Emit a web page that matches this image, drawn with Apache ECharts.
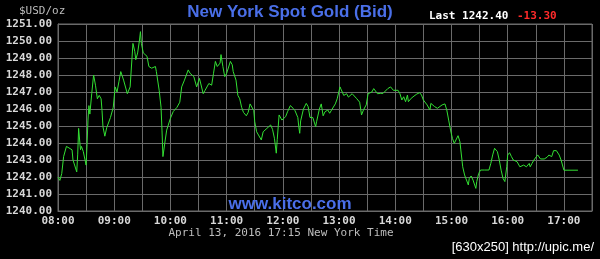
<!DOCTYPE html>
<html>
<head>
<meta charset="utf-8">
<script src="https://cdn.jsdelivr.net/npm/echarts@6/dist/echarts.min.js"></script>
<style>
html,body{margin:0;padding:0;background:#000;}
#chart{width:600px;height:259px;}
</style>
</head>
<body>
<div id="chart"></div>
<script>
var times = ["08:00","08:02","08:04","08:06","08:09","08:11","08:15","08:16","08:18","08:20","08:21","08:22","08:24","08:25","08:27","08:30","08:31","08:32","08:33","08:34","08:36","08:38","08:40","08:42","08:44","08:46","08:47","08:48","08:50","08:52","08:56","08:59",
"09:01","09:03","09:05","09:07","09:10","09:14","09:17","09:20","09:22","09:23","09:25","09:27","09:28","09:29","09:31","09:35","09:37","09:40","09:44","09:45","09:48","09:50","09:51","09:52","09:54","09:56",
"10:00","10:03","10:07","10:10","10:12","10:15","10:17","10:19","10:21","10:25","10:28","10:31","10:35","10:37","10:41","10:44","10:46","10:48","10:50","10:51","10:53","10:54","10:56","10:58",
"11:00","11:04","11:06","11:07","11:10","11:12","11:14","11:16","11:18","11:21","11:23","11:25","11:27","11:29","11:30","11:32","11:34","11:37","11:39","11:43","11:47","11:49","11:51","11:53","11:54","11:56","11:59",
"12:03","12:05","12:08","12:11","12:13","12:16","12:17","12:18","12:19","12:22","12:25","12:27","12:29","12:32","12:35","12:36","12:39","12:41","12:43","12:45","12:48","12:50","12:52","12:56","12:58",
"13:00","13:01","13:03","13:05","13:08","13:10","13:14","13:16","13:19","13:22","13:24","13:26","13:29","13:31","13:33","13:35","13:37","13:39","13:41","13:44","13:47","13:49","13:52","13:55","13:58",
"14:00","14:03","14:05","14:07","14:09","14:11","14:13","14:14","14:17","14:20","14:23","14:26","14:28","14:30","14:34","14:37","14:38","14:40","14:42","14:45","14:47","14:50","14:53","14:55","14:57","14:59",
"15:01","15:03","15:04","15:07","15:09","15:10","15:12","15:14","15:16","15:18","15:19","15:21","15:23","15:26","15:27","15:29","15:31","15:35","15:37","15:40","15:42","15:44","15:46","15:49","15:51","15:53","15:55","15:57","15:59",
"16:00","16:02","16:04","16:06","16:07","16:10","16:13","16:14","16:17","16:20","16:23","16:24","16:26","16:28","16:30","16:32","16:35","16:39","16:42","16:44","16:47","16:49","16:50","16:52","16:55","16:57",
"17:00","17:15"];
var prices = [1242.00,1241.80,1242.20,1243.20,1243.80,1243.90,1243.60,1243.00,1242.90,1242.30,1243.30,1244.86,1243.60,1243.80,1243.50,1242.70,1243.90,1245.35,1246.20,1245.70,1246.90,1248.00,1247.40,1246.60,1246.80,1246.60,1245.90,1244.96,1244.40,1244.90,1245.50,1246.10,
1247.30,1247.00,1247.60,1248.20,1247.70,1246.90,1247.30,1249.86,1249.37,1248.90,1249.30,1250.06,1250.55,1249.86,1249.30,1249.10,1248.50,1248.40,1248.50,1248.20,1247.10,1246.10,1244.76,1243.20,1244.00,1244.76,
1245.45,1245.85,1246.10,1246.40,1247.30,1247.70,1247.60,1248.30,1248.10,1247.90,1247.30,1247.80,1246.90,1247.10,1247.50,1247.40,1248.10,1248.80,1248.50,1248.40,1248.70,1249.20,1248.50,1247.90,
1248.10,1248.80,1248.60,1248.20,1247.70,1246.80,1246.60,1246.10,1245.80,1245.60,1245.80,1246.30,1246.40,1245.90,1245.25,1244.66,1244.57,1244.18,1244.66,1244.86,1245.06,1244.80,1244.28,1243.40,1244.20,1245.65,1245.35,
1245.55,1245.84,1246.20,1246.04,1245.90,1245.50,1244.96,1244.57,1245.30,1246.00,1246.33,1246.14,1245.50,1245.50,1244.96,1245.25,1246.00,1246.30,1245.60,1245.84,1245.94,1245.75,1245.94,1246.30,1246.60,
1246.50,1247.30,1247.20,1246.80,1246.90,1246.70,1246.90,1246.95,1246.60,1246.40,1245.65,1245.94,1246.24,1246.90,1246.92,1247.00,1247.20,1247.10,1246.90,1246.92,1246.92,1247.00,1247.20,1247.30,1247.10,
1247.00,1247.10,1246.90,1246.53,1246.72,1246.43,1246.82,1246.43,1246.63,1246.76,1246.88,1246.96,1246.82,1246.53,1246.24,1245.94,1246.33,1246.29,1246.14,1246.04,1246.14,1246.24,1246.30,1245.94,1245.35,1244.76,
1244.27,1243.98,1244.08,1244.43,1244.08,1243.59,1242.60,1242.12,1242.02,1241.53,1241.92,1242.06,1241.82,1241.33,1241.73,1242.20,1242.41,1242.41,1242.31,1242.41,1242.80,1243.30,1243.69,1243.49,1243.00,1242.40,1241.92,1241.73,1242.60,
1243.29,1243.43,1243.20,1243.00,1243.10,1242.90,1242.60,1242.51,1242.70,1242.60,1242.80,1242.60,1242.80,1243.00,1243.10,1243.30,1243.06,1243.06,1243.16,1243.29,1243.20,1243.55,1243.49,1243.55,1243.29,1243.00,
1242.40,1242.40];
var yTicks = [1240,1241,1242,1243,1244,1245,1246,1247,1248,1249,1250,1251];
var xTickLabels = ["08:00","09:00","10:00","11:00","12:00","13:00","14:00","15:00","16:00","17:00"];
var titleText = "New York Spot Gold (Bid)";
var lastText = "Last 1242.40";
var changeText = "-13.30";
var unitText = "$USD/oz";
var siteText = "www.kitco.com";
var dateText = "April 13, 2016 17:15 New York Time";
var stampText = "[630x250] http://upic.me/";

function toMin(t){var p=t.split(':');return (parseInt(p[0],10)-8)*60+parseInt(p[1],10);}
function toLabel(m){var h=8+Math.floor(m/60),mm=m%60;return (h<10?'0':'')+h+':'+(mm<10?'0':'')+mm;}
var data = times.map(function(t,i){return [toMin(t),prices[i]];});

var chart = echarts.init(document.getElementById('chart'),null,{renderer:'canvas'});
var gridCol = '#6a6a6a';
var mono = '"DejaVu Sans Mono", "Liberation Mono", monospace';
chart.setOption({
  backgroundColor:'#000',
  animation:false,
  grid:{left:58,right:8,top:24,bottom:48,show:true,borderColor:gridCol,borderWidth:1,backgroundColor:'#000'},
  xAxis:{type:'value',min:0,max:570,interval:30,
    axisLine:{show:true,lineStyle:{color:gridCol}},axisTick:{show:false},
    splitLine:{show:true,lineStyle:{color:gridCol,width:1}},
    axisLabel:{color:'#d8d8d8',fontFamily:mono,fontSize:11,fontWeight:'bold',margin:5,
      formatter:function(v){var l=toLabel(v);return xTickLabels.indexOf(l)>=0?l:'';}}},
  yAxis:{type:'value',min:yTicks[0],max:yTicks[yTicks.length-1],interval:1,
    axisLine:{show:true,lineStyle:{color:gridCol}},axisTick:{show:false},
    splitLine:{show:true,lineStyle:{color:gridCol,width:1}},
    axisLabel:{color:'#d8d8d8',fontFamily:mono,fontSize:11,fontWeight:'bold',margin:6,
      formatter:function(v){return v.toFixed(2);}}},
  series:[{type:'line',data:data,showSymbol:false,symbol:'none',
    lineStyle:{color:'#33e033',width:1},z:3}],
  graphic:[
    {type:'text',x:19,y:11,style:{text:unitText,font:'11px '+mono,fill:'#bdbdbd',textAlign:'left',textVerticalAlign:'middle'}},
    {type:'text',x:290,y:12,style:{text:titleText,font:'bold 17px "Liberation Sans", Arial, sans-serif',fill:'#4a6fe8',textAlign:'center',textVerticalAlign:'middle'}},
    {type:'text',x:429,y:16,style:{text:lastText,font:'bold 11px '+mono,fill:'#ffffff',textAlign:'left',textVerticalAlign:'middle'}},
    {type:'text',x:517,y:16,style:{text:changeText,font:'bold 11px '+mono,fill:'#ff2a2a',textAlign:'left',textVerticalAlign:'middle'}},
    {type:'text',x:290,y:204,z:10,style:{text:siteText,font:'bold 17px "Liberation Sans", Arial, sans-serif',fill:'#4a6fe8',textAlign:'center',textVerticalAlign:'middle'}},
    {type:'text',x:281,y:233,style:{text:dateText,font:'11px '+mono,fill:'#bdbdbd',textAlign:'center',textVerticalAlign:'middle'}},
    {type:'text',x:594,y:247,style:{text:stampText,font:'13px "Liberation Sans", sans-serif',fill:'#ffffff',textAlign:'right',textVerticalAlign:'middle'}}
  ]
});
</script>
</body>
</html>
